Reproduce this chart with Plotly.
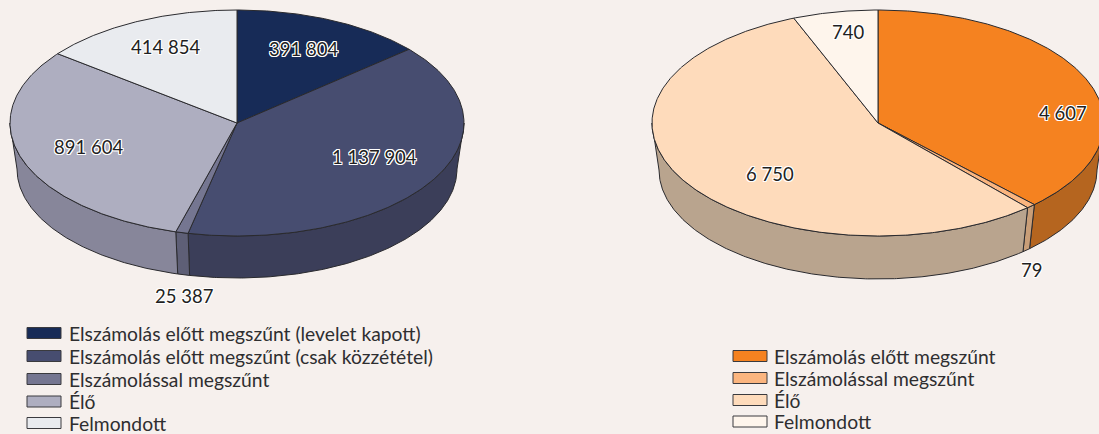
import math
import plotly.graph_objects as go

# ---- data ----
left_categories = ["Elszámolás előtt megszűnt (levelet kapott)", "Elszámolás előtt megszűnt (csak közzététel)",
                   "Elszámolással megszűnt", "Élő", "Felmondott"]
left_values = [391804, 1137904, 25387, 891604, 414854]
left_labels = ["391 804", "1 137 904", "25 387", "891 604", "414 854"]

right_categories = ["Elszámolás előtt megszűnt", "Elszámolással megszűnt", "Élő", "Felmondott"]
right_values = [4607, 79, 6750, 740]
right_labels = ["4 607", "79", "6 750", "740"]

# ---- style and layout ----
BG = "#f6f0ed"
EDGE = "#2a2a2e"
TEXT = "#2e2e30"
FONT = "Lato"
left_top = ["#172b57", "#474d70", "#757691", "#aeaec0", "#e9ebef"]
left_side = ["#10203f", "#3b3e59", "#5e5f76", "#87869a", "#b9bbc0"]
right_top = ["#f58220", "#fbb57f", "#fedbbb", "#fef5ec"]
right_side = ["#b5651f", "#c99e78", "#b9a48e", "#c9c3bb"]

left_geo = dict(cx=237, cy=123, rx=227, ry=113, bcy=169, brx=220, bry=109)
right_geo = dict(cx=878, cy=123, rx=226, ry=113, bcy=170, brx=219, bry=109)

left_label_pos = [(303, 49), (374, 157), (184, 296), (88, 147), (165, 47)]
right_label_pos = [(1063, 113), (1031, 270), (770, 174), (848, 32)]

left_legend = dict(sx=27, tx=67, ys=[333, 356, 379, 401.5, 423])
right_legend = dict(sx=733, tx=772, ys=[356, 378, 400, 421.5])

HALO = ",".join(f"{a}px {b}px 0.5px #ffffff" for a in (-1, 0, 1) for b in (-1, 0, 1) if a or b)

fig = go.Figure()


def pt(cx, cy, rx, ry, deg):
    a = math.radians(deg)
    return cx + rx * math.sin(a), cy - ry * math.cos(a)


def arc(cx, cy, rx, ry, a0, a1):
    n = max(2, int(abs(a1 - a0) * 2) + 1)
    return [pt(cx, cy, rx, ry, a0 + (a1 - a0) * i / (n - 1)) for i in range(n)]


def add_poly(pts, fill, name, group):
    fig.add_trace(go.Scatter(
        x=[p[0] for p in pts], y=[p[1] for p in pts], mode="lines", fill="toself",
        fillcolor=fill, line=dict(color=EDGE, width=1), name=name, legendgroup=group,
        showlegend=False, hoverinfo="name"))


def draw_pie(values, names, tops, sides, g, group):
    total = sum(values)
    spans, acc = [], 0.0
    for v in values:
        spans.append((acc, acc + v / total * 360))
        acc += v / total * 360
    # walls of the front half
    for (a0, a1), name, col in zip(spans, names, sides):
        s, e = max(a0, 90), min(a1, 270)
        if e > s:
            upper = arc(g["cx"], g["cy"], g["rx"], g["ry"], s, e)
            lower = arc(g["cx"], g["bcy"], g["brx"], g["bry"], e, s)
            add_poly(upper + lower + upper[:1], col, name, group)
    # top faces
    for (a0, a1), name, col in zip(spans, names, tops):
        rim = arc(g["cx"], g["cy"], g["rx"], g["ry"], a0, a1)
        add_poly([(g["cx"], g["cy"])] + rim + [(g["cx"], g["cy"])], col, name, group)


def add_labels(labels, positions):
    for text, (x, y) in zip(labels, positions):
        fig.add_annotation(x=x, y=y, text=text, showarrow=False, xanchor="center", yanchor="middle",
                           font=dict(family=FONT, size=18.5, color="#1f1f22", shadow=HALO))


def add_legend(names, colors, lg):
    for name, col, y in zip(names, colors, lg["ys"]):
        fig.add_shape(type="rect", x0=lg["sx"], x1=lg["sx"] + 34, y0=y - 5.5, y1=y + 5.5,
                      fillcolor=col, line=dict(color="#3a3a3e", width=1))
        fig.add_annotation(x=lg["tx"], y=y, text=name, showarrow=False, xanchor="left", yanchor="middle",
                           font=dict(family=FONT, size=19.3, color=TEXT))


draw_pie(left_values, left_categories, left_top, left_side, left_geo, "left")
draw_pie(right_values, right_categories, right_top, right_side, right_geo, "right")
add_labels(left_labels, left_label_pos)
add_labels(right_labels, right_label_pos)
add_legend(left_categories, left_top, left_legend)
add_legend(right_categories, right_top, right_legend)

fig.update_layout(
    width=1099, height=434, margin=dict(l=0, r=0, t=0, b=0), paper_bgcolor=BG, plot_bgcolor=BG,
    showlegend=False,
    xaxis=dict(range=[0, 1099], visible=False, fixedrange=True),
    yaxis=dict(range=[434, 0], visible=False, fixedrange=True),
)
fig.write_html("out.html", config=dict(displayModeBar=False),
               post_script="document.body.style.margin='0';document.documentElement.style.overflow='hidden';")
